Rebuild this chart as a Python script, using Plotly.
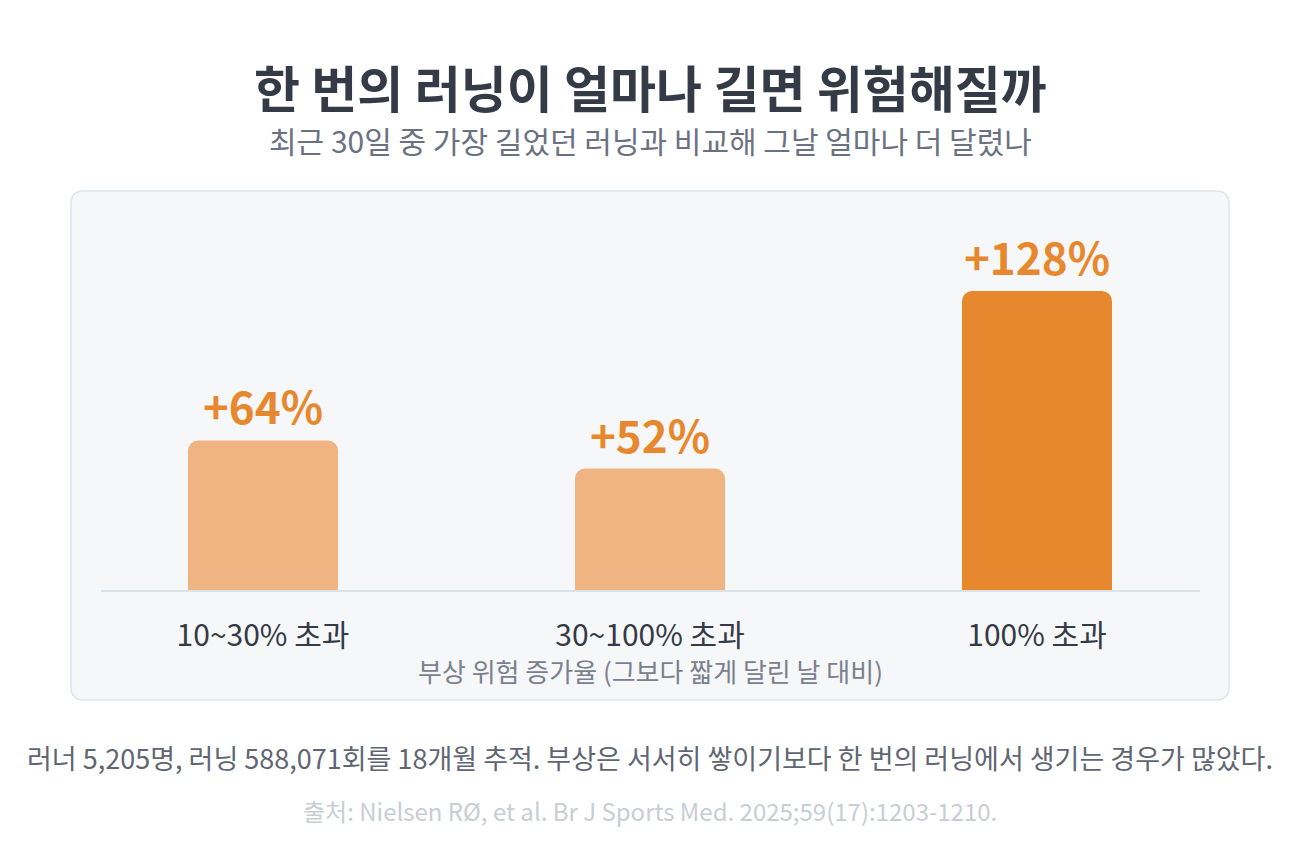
import plotly.graph_objects as go

categories = ['10~30% 초과', '30~100% 초과', '100% 초과']
risk_increase = [64, 52, 128]
bar_labels = ['+64%', '+52%', '+128%']
bar_colors = ['#f0b482', '#f0b482', '#e8882e']

TITLE = '한 번의 러닝이 얼마나 길면 위험해질까'
SUBTITLE = '최근 30일 중 가장 길었던 러닝과 비교해 그날 얼마나 더 달렸나'
XTITLE = '부상 위험 증가율 (그보다 짧게 달린 날 대비)'
NOTE = '러너 5,205명, 러닝 588,071회를 18개월 추적. 부상은 서서히 쌓이기보다 한 번의 러닝에서 생기는 경우가 많았다.'
SOURCE = '출처: Nielsen RØ, et al. Br J Sports Med. 2025;59(17):1203-1210.'

FONT = 'Noto Sans CJK KR'
OFF = 8  # page body margin
W, H = 1300, 860
L, R, T, B = 101 - OFF, 100 + OFF, 230 - OFF, 270 + OFF
PW, PH = W - L - R, H - T - B


def px(x, y):
    # screen pixel position -> paper coords
    return (x - OFF - L) / PW, (H - B - (y - OFF)) / PH


def panel_path(x0, y0, x1, y1, r):
    a0, b1 = px(x0, y0)
    a1, b0 = px(x1, y1)
    rx, ry = r / PW, r / PH
    return (f'M{a0 + rx},{b1} L{a1 - rx},{b1} Q{a1},{b1} {a1},{b1 - ry} '
            f'L{a1},{b0 + ry} Q{a1},{b0} {a1 - rx},{b0} L{a0 + rx},{b0} '
            f'Q{a0},{b0} {a0},{b0 + ry} L{a0},{b1 - ry} Q{a0},{b1} {a0 + rx},{b1} Z')


fig = go.Figure(go.Bar(
    x=categories, y=risk_increase, width=0.3876,
    marker=dict(color=bar_colors, line=dict(width=0), cornerradius=10),
    text=bar_labels, textposition='outside', cliponaxis=False,
    textfont=dict(family=FONT, size=44, color='#e8882e', weight=700),
    hoverinfo='skip',
))

fig.add_shape(type='path', xref='paper', yref='paper', layer='below',
              path=panel_path(71, 191, 1229, 700, 13),
              fillcolor='#f6f7f9', line=dict(color='#dfe3ea', width=1.5))

texts = [
    (TITLE, 86, 50, '#343a46', 700),
    (SUBTITLE, 140, 30, '#6b7180', 400),
    (XTITLE, 670, 26, '#7a808c', 400),
    (NOTE, 757, 27, '#5f6672', 400),
    (SOURCE, 810, 24, '#c9cdd4', 400),
]
for txt, y, size, color, weight in texts:
    xp, yp = px(650, y)
    fig.add_annotation(text=txt, x=xp, y=yp, xref='paper', yref='paper',
                       xanchor='center', yanchor='middle', showarrow=False,
                       font=dict(family=FONT, size=size, color=color, weight=weight))

fig.update_layout(
    width=W, height=H,
    margin=dict(l=L, r=R, t=T, b=B),
    paper_bgcolor='white', plot_bgcolor='rgba(0,0,0,0)',
    font=dict(family=FONT),
    showlegend=False,
    xaxis=dict(range=[-0.4186, 2.4212], showgrid=False, zeroline=False,
               showline=True, linecolor='#dde1e8', linewidth=2,
               ticks='', ticklabelstandoff=18,
               tickfont=dict(family=FONT, size=30, color='#343a46'),
               fixedrange=True),
    yaxis=dict(range=[0, 154.1], visible=False, fixedrange=True),
)

fig.write_html('out.html')
